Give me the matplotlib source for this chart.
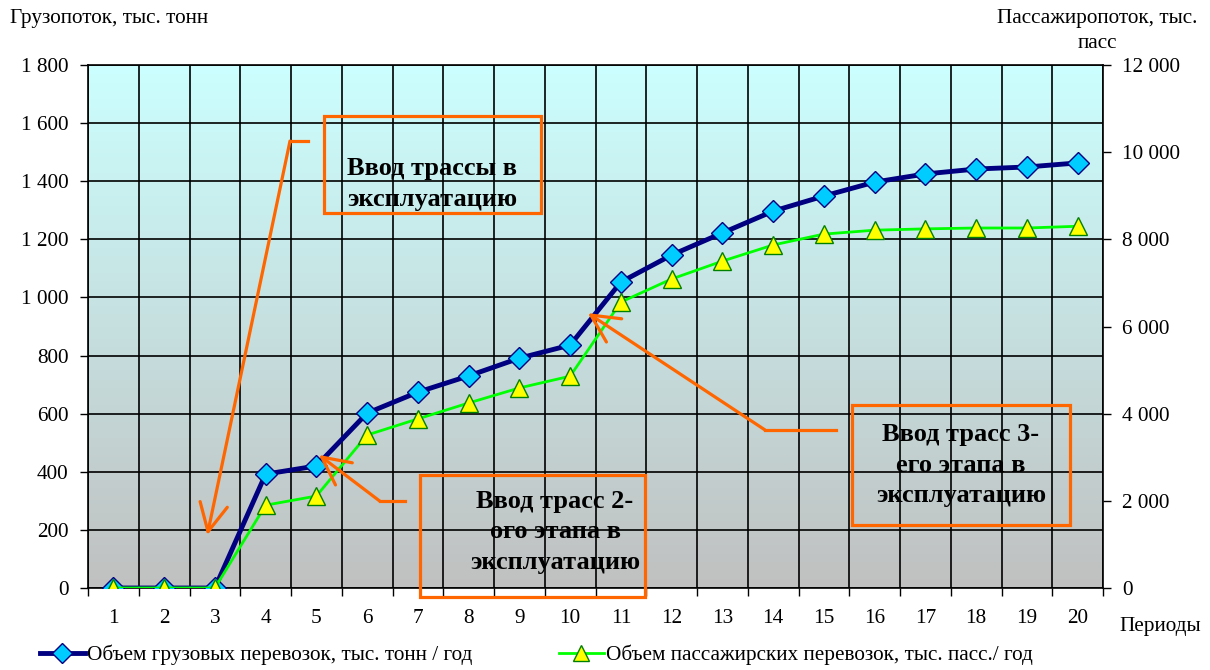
"""Грузопоток и пассажиропоток по периодам. Выход: out.png"""
import numpy as np
import matplotlib
matplotlib.use("Agg")
import matplotlib.pyplot as plt
from matplotlib.colors import LinearSegmentedColormap
from matplotlib.patches import Rectangle
from matplotlib.lines import Line2D
from matplotlib.ticker import FuncFormatter

periods = list(range(1, 21))
cargo = [0, 0, 0, 392, 420, 602, 674, 730, 791, 836,
         1053, 1146, 1222, 1297, 1349, 1397, 1425, 1442, 1449, 1463]
passengers = [0, 0, 0, 1900, 2110, 3510, 3880, 4245, 4590, 4860,
              6560, 7090, 7500, 7870, 8120, 8210, 8240, 8260, 8260, 8300]
left_ticks = [0, 200, 400, 600, 800, 1000, 1200, 1400, 1600, 1800]
right_ticks = [0, 2000, 4000, 6000, 8000, 10000, 12000]

ORANGE, NAVY = "#ff6600", "#000080"
plt.rcParams.update({"font.family": ["Liberation Serif", "DejaVu Serif"], "font.size": 15.3})

W, H = 1210, 670
fig = plt.figure(figsize=(W / 100, H / 100), dpi=100)
ax = fig.add_axes([88 / W, 82 / H, 1015 / W, 523 / H])

# фон-градиент
cmap = LinearSegmentedColormap.from_list("bg", ["#c0c0c0", "#ccffff"])
ax.imshow(np.linspace(0, 1, 256).reshape(-1, 1), extent=[0.5, 20.5, 0, 1800],
          aspect="auto", cmap=cmap, origin="lower", zorder=0)
ax.set_xlim(0.5, 20.5)
ax.set_ylim(0, 1800)

fmt = FuncFormatter(lambda v, p: f"{int(v):,}".replace(",", " "))
ax.set_xticks(periods)
ax.set_xticks(np.arange(0.5, 21, 1), minor=True)
ax.set_yticks(left_ticks)
ax.yaxis.set_major_formatter(fmt)
ax.tick_params(axis="x", which="major", length=0, pad=15)
ax.tick_params(axis="x", which="minor", length=6, direction="out", width=1)
ax.tick_params(axis="y", length=6, direction="out", width=1, pad=8)
ax.grid(which="minor", axis="x", color="black", lw=1.2)
ax.grid(which="major", axis="y", color="black", lw=1.2)
ax.set_axisbelow(False)
for s in ax.spines.values():
    s.set_color("black"); s.set_linewidth(1.2)

ax.plot(periods, cargo, color=NAVY, lw=3.5, marker="D", ms=11, mfc="#00ccff",
        mec=NAVY, mew=1, zorder=3)

ax2 = ax.twinx()
ax2.set_ylim(0, 12000)
ax2.set_yticks(right_ticks)
ax2.yaxis.set_major_formatter(fmt)
ax2.tick_params(axis="y", length=6, direction="out", width=1, pad=8)
ax2.plot(periods, passengers, color="#00ff00", lw=2, marker="^", ms=13, mfc="#ffff00",
         mec="#008000", mew=1, zorder=3)
for s in ax2.spines.values():
    s.set_visible(False)

# стрелки: начало, излом, остриё (в единицах левой оси)
arrows = [((4.84, 1538), (4.48, 1538), (2.85, 182)),
          ((6.75, 299), (6.25, 299), (5.05, 458)),
          ((15.24, 544), (13.84, 544), (10.35, 946))]
for start, corner, tip in arrows:
    ax2.add_line(Line2D([start[0], corner[0]], [start[1], corner[1]], color=ORANGE,
                        lw=2.3, transform=ax.transData, zorder=5))
    ax2.annotate("", xy=tip, xytext=corner, xycoords=ax.transData, textcoords=ax.transData,
                 arrowprops=dict(arrowstyle="->,head_length=1.0,head_width=0.5",
                                 color=ORANGE, lw=2.3, mutation_scale=20,
                                 shrinkA=0, shrinkB=0), zorder=5)

# рамки с подписями (пиксели)
boxes = [((324, 116, 541, 213), "Ввод трассы в\nэксплуатацию", "left", 347, 184),
         ((420, 475, 645, 597), "Ввод трасс 2-\nого этапа в\nэксплуатацию", "center", 555, 532),
         ((852, 405, 1070, 525), "Ввод трасс 3-\nего этапа в\nэксплуатацию", "center", 961, 465)]
for (x0, y0, x1, y1), txt, ha, tx, ty in boxes:
    fig.add_artist(Rectangle((x0 / W, 1 - y1 / H), (x1 - x0) / W, (y1 - y0) / H,
                             transform=fig.transFigure, fill=False, ec=ORANGE, lw=2.3))
    fig.text(tx / W, 1 - ty / H, txt, ha=ha, va="center", fontsize=19, fontweight="bold",
             linespacing=1.4, multialignment=ha)

fig.text(10 / W, 1 - 18 / H, "Грузопоток, тыс. тонн", ha="left", va="center")
fig.text(1097 / W, 1 - 31 / H, "Пассажиропоток, тыс.\nпасс", ha="center", va="center",
         linespacing=1.5)
fig.text(1160 / W, 1 - 626 / H, "Периоды", ha="center", va="center")

h1 = Line2D([], [], color=NAVY, lw=3.5, marker="D", ms=10, mfc="#00ccff", mec=NAVY)
h2 = Line2D([], [], color="#00ff00", lw=2, marker="^", ms=12, mfc="#ffff00", mec="#008000")
fig.legend([h1], ["Объем грузовых перевозок, тыс. тонн / год"], loc="center left",
           bbox_to_anchor=(40 / W, 1 - 655 / H), frameon=False, handlelength=2.1,
           handletextpad=0.1, borderpad=0, borderaxespad=0)
fig.legend([h2], ["Объем пассажирских перевозок, тыс. пасс./ год"], loc="center left",
           bbox_to_anchor=(559 / W, 1 - 655 / H), frameon=False, handlelength=2.1,
           handletextpad=0.1, borderpad=0, borderaxespad=0)

fig.savefig("out.png", dpi=100, facecolor="white")
